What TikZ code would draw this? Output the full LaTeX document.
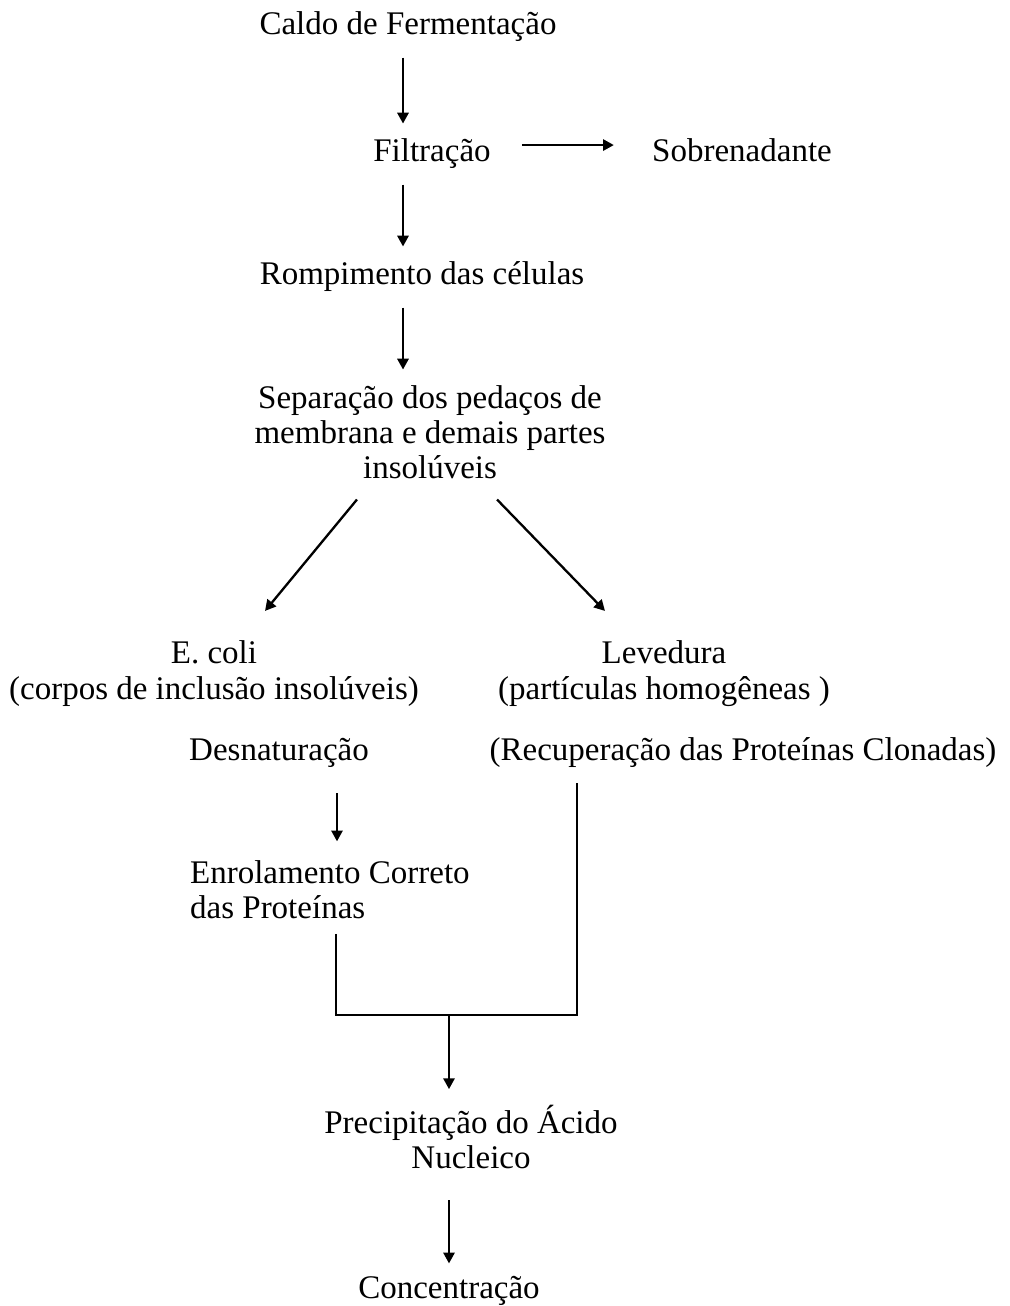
\documentclass[tikz,border=0pt]{standalone}
\usepackage{fontspec}
\setmainfont{Liberation Serif}
\usepackage{tikz}
\usetikzlibrary{arrows.meta, positioning}
\newcommand{\flowfont}{\fontsize{23.47pt}{24.9pt}\selectfont}
\newcommand{\flowfontwide}{\fontsize{23.47pt}{26.3pt}\selectfont}

\begin{document}
\begin{tikzpicture}[x=0.025cm, y=-0.025cm, line width=1.65pt,
    txt/.style={font=\flowfont, inner xsep=0pt, inner ysep=0.36cm, anchor=base},
    blk/.style={txt, text width=11cm, align=flush center},
    arr/.style={-{Triangle[length=0.27cm, width=0.28cm]}}]
    \useasboundingbox (0,0) rectangle (1009,1306);

    % Columns of the vertical arrows
    \coordinate (colA) at (403,0);
    \coordinate (colB) at (337,0);
    \coordinate (colC) at (336,0);
    \coordinate (colD) at (577,0);
    \coordinate (merge) at (449,1015);

    % Steps
    \node[txt] (caldo) at (408,35) {Caldo de Fermentação};
    \node[txt] (filt) at (432,162) {Filtração};
    \node[txt] (sobre) at (742,162) {Sobrenadante};
    \node[txt] (romp) at (422,285) {Rompimento das células};
    \node[blk] (separ) at (430,408) {Separação dos pedaços de\\ membrana e demais partes\\ insolúveis};

    % Two branches
    \node[blk, font=\flowfontwide] (ecoli) at (214,663) {E. coli\\ (corpos de inclusão insolúveis)};
    \node[blk, font=\flowfontwide] (leved) at (664,663) {Levedura\\ (partículas homogêneas )};
    \node[txt] (desnat) at (279,760) {Desnaturação};
    \node[txt] (recup) at (743,760) {(Recuperação das Proteínas Clonadas)};
    \node[txt, anchor=base west, text width=8cm, align=flush left] (enrol) at (189,883) {Enrolamento Correto\\ das Proteínas};

    % End of the process
    \node[blk, text width=9cm] (precip) at (471,1133) {Precipitação do Ácido\\ Nucleico};
    \node[txt] (conc) at (449,1298) {Concentração};

    % Arrows
    \draw[arr] (caldo.south -| colA) -- (filt.north -| colA);
    \draw[arr, shorten <=0.75cm, shorten >=0.93cm] ([yshift=0.225cm]filt.east) -- ([yshift=0.225cm]filt.east -| sobre.west);
    \draw[arr] (filt.south -| colA) -- (romp.north -| colA);
    \draw[arr] (romp.south -| colA) -- (separ.north -| colA);
    \draw[arr] ([xshift=-1.825cm, yshift=-0.14cm]separ.south) -- ([xshift=1.275cm, yshift=0.34cm]ecoli.north);
    \draw[arr] ([xshift=1.675cm, yshift=-0.14cm]separ.south) -- ([xshift=-1.475cm, yshift=0.34cm]leved.north);
    \draw[arr, shorten <=0.27cm, shorten >=0.08cm] (desnat.south -| colB) -- (enrol.north -| colB);

    % Joining both branches
    \draw (enrol.south -| colC) |- (merge) -| (recup.south -| colD);
    \draw[arr] (merge) -- (precip.north -| merge);
    \draw[arr, shorten <=0.41cm, shorten >=-0.08cm] (precip.south -| merge) -- (conc.north -| merge);
\end{tikzpicture}
\end{document}
